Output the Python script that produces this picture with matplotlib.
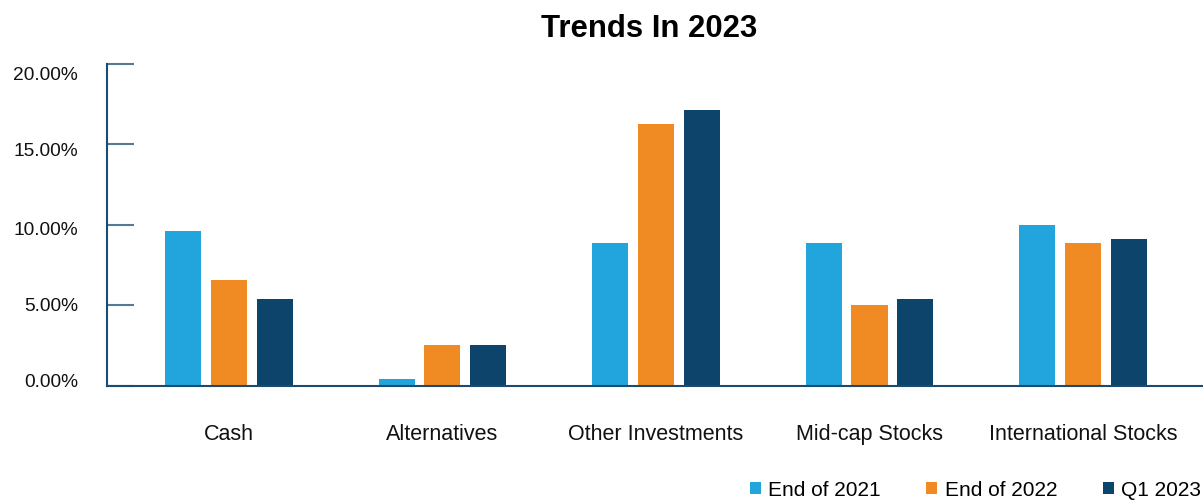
import numpy as np
import matplotlib
matplotlib.use('Agg')
import matplotlib.pyplot as plt
import matplotlib.transforms as mtransforms
from matplotlib.patches import Patch

plt.rcParams['font.family'] = ['Liberation Sans', 'DejaVu Sans']

categories = ['Cash', 'Alternatives', 'Other Investments', 'Mid-cap Stocks', 'International Stocks']
series_names = ['End of 2021', 'End of 2022', 'Q1 2023']
end_2021 = [9.6, 0.4, 8.9, 8.9, 10.0]
end_2022 = [6.6, 2.5, 16.25, 5.0, 8.9]
q1_2023 = [5.4, 2.5, 17.15, 5.4, 9.15]
y_ticks = [0, 5, 10, 15, 20]
colors = ['#22a5dc', '#f08a22', '#0d446c']

fig = plt.figure(figsize=(12.03, 5.02), dpi=100)
ax = fig.add_axes([107 / 1203, (502 - 386.7) / 502, 1 - 107 / 1203, (386.7 - 65) / 502])

x = np.arange(len(categories))
width = 0.169
step = 0.214
for i, (vals, col) in enumerate(zip([end_2021, end_2022, q1_2023], colors)):
    ax.bar(x + (i - 1) * step, vals, width=width, color=col, zorder=2)

ax.set_xlim(-0.571, 4.562)
ax.set_ylim(0, 20)
ax.set_yticks(y_ticks)
ax.set_yticklabels([f'{v:.2f}%' for v in y_ticks])
ax.set_xticks(x)
ax.set_xticklabels(categories)

for side in ['top', 'right']:
    ax.spines[side].set_visible(False)
for side in ['left', 'bottom']:
    ax.spines[side].set_color('#1c4a70')
    ax.spines[side].set_linewidth(1.5)

ax.tick_params(axis='y', direction='in', length=19.5, width=1.5, color='#557a98',
               pad=21, labelsize=13.8, labelcolor='#111111')
ax.tick_params(axis='x', length=0, pad=27, labelsize=15.5, labelcolor='#111111')

# y labels sit on an even grid that is a little tighter than the ticks
shifts_px = [-5.7, -1.5, 2.5, 4.0, 9.0]
for lab, dy in zip(ax.get_yticklabels(), shifts_px):
    lab.set_transform(lab.get_transform()
                      + mtransforms.ScaledTranslation(0, -dy / 100, fig.dpi_scale_trans))

fig.text(649 / 1203, 1 - 29.5 / 502, 'Trends In 2023', ha='center', va='center',
         fontsize=22.4, fontweight='bold', color='black')

handles = [Patch(facecolor=c, edgecolor='none') for c in colors]
fig.legend(handles, series_names, loc='center right', bbox_to_anchor=(1201 / 1203, 1 - 491 / 502),
           ncol=3, frameon=False, fontsize=15, handlelength=0.53, handleheight=0.53,
           handletextpad=0.34, columnspacing=2.2, borderpad=0, borderaxespad=0)

fig.savefig('out.png', dpi=100, facecolor='white')
